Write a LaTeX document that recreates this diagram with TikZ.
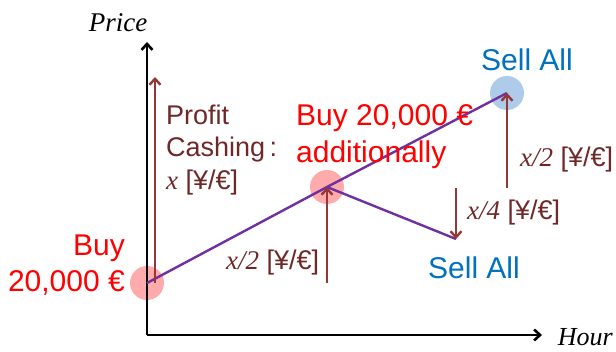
\documentclass[tikz,border=0pt]{standalone}
\usepackage{fontspec}
\setmainfont{Liberation Sans}
\newfontfamily\tms{Liberation Serif}
\usetikzlibrary{arrows.meta}
\definecolor{ArrowBrown}{RGB}{150,55,55}
\definecolor{TextBrown}{RGB}{110,40,40}
\definecolor{LinePurple}{RGB}{112,48,160}
\definecolor{SellBlue}{RGB}{0,112,192}
\definecolor{DotBlue}{RGB}{120,170,220}

\begin{document}
\begin{tikzpicture}[x=1pt,y=1pt,
  lbl/.style={inner sep=0pt,font=\fontsize{27}{35}\selectfont,text=TextBrown},
  red/.style={inner sep=0pt,font=\fontsize{30}{37}\selectfont,text=red},
  blue/.style={inner sep=0pt,font=\fontsize{30}{37}\selectfont,text=SellBlue},
  dot/.style={circle,inner sep=0pt,minimum size=34pt,fill opacity=0.6},
  ax/.style={-{Straight Barb[length=6pt,width=11pt]},line width=2.6pt},
  up/.style={-{Straight Barb[length=6pt,width=11pt]},line width=2.4pt,draw=ArrowBrown}
]
  \useasboundingbox (0,0) rectangle (616,352);
  \node[inner sep=0pt] (o) at (147,17) {};
  \coordinate (ytop) at (147,310);
  \coordinate (xend) at (542,17);
  \node[dot,fill=red!55] (p1) at (147,69) {};
  \node[dot,fill=red!55] (p2) at (327,165) {};
  \node[dot,fill=DotBlue] (p3) at (507,259) {};
  \coordinate (p4) at (456,113);
  \coordinate (a1s) at (155,69);
  \coordinate (a1e) at (155,275);
  \coordinate (a2s) at (327,69);
  \coordinate (a3s) at (507,164);
  \coordinate (a4s) at (456,164);
  % axes
  \draw[ax] (o.center) -- (ytop);
  \draw[ax] (o.center) -- (xend);
  \node[inner sep=0pt,font=\fontsize{27}{30}\selectfont\tms\itshape] (price) at (118,329) {Price};
  \node[inner sep=0pt,anchor=east,font=\fontsize{26}{30}\selectfont\tms\itshape] (hour) at (613,15) {Hour};
  % price path
  \draw[LinePurple,line width=2.4pt] (p1.center) -- (p2.center) -- (p3.center);
  \draw[LinePurple,line width=2.4pt] (p2.center) -- (p4);
  % rate arrows
  \draw[up] (a1s) -- (a1e);
  \draw[up] (a2s) -- (p2.center);
  \draw[up] (a3s) -- (p3.center);
  \draw[up] (a4s) -- (p4);
  % labels
  \node[lbl,anchor=west] (pc1) at (166,237) {Profit};
  \node[lbl,anchor=west] (pc2) at (166,202) {Cashing\,:};
  \node[lbl,anchor=west] (pc3) at (166,169) {{\tms\itshape x} [¥/€]};
  \node[lbl,anchor=west] (r2) at (226,89) {{\tms\itshape x/2} [¥/€]};
  \node[lbl,anchor=west] (r4) at (467,139) {{\tms\itshape x/4} [¥/€]};
  \node[lbl,anchor=west] (r3) at (520,192) {{\tms\itshape x/2} [¥/€]};
  \node[red,anchor=west] (b2a) at (296,234) {Buy 20,000 €};
  \node[red,anchor=west] (b2b) at (296,197) {additionally};
  \node[red,anchor=east] (b1a) at (125,104) {Buy};
  \node[red,anchor=east] (b1b) at (125,69) {20,000 €};
  \node[blue] (s1) at (527,292) {Sell All};
  \node[blue] (s2) at (474,84) {Sell All};
\end{tikzpicture}
\end{document}
